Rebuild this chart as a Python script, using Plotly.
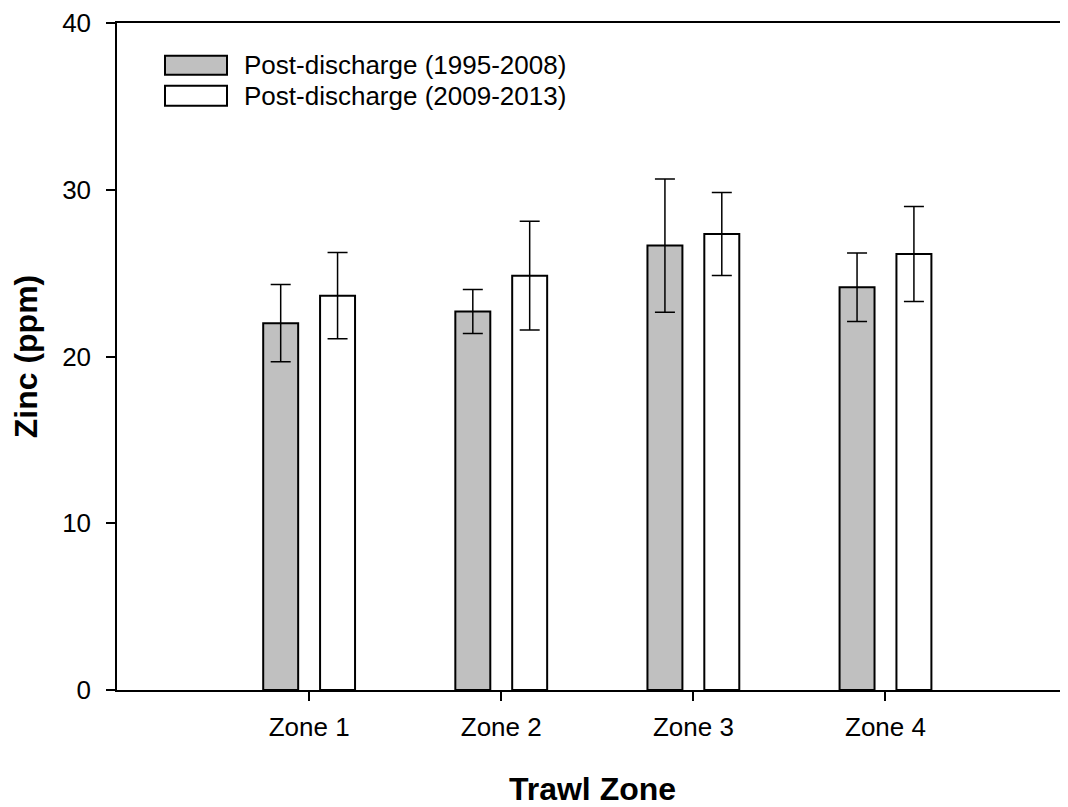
import plotly.graph_objects as go

zones = ["Zone 1", "Zone 2", "Zone 3", "Zone 4"]
zinc_early = [22.0, 22.7, 26.65, 24.15]
sd_early = [2.32, 1.32, 4.0, 2.05]
zinc_late = [23.65, 24.85, 27.35, 26.15]
sd_late = [2.59, 3.26, 2.49, 2.85]
legend_names = ["Post-discharge (1995-2008)", "Post-discharge (2009-2013)"]

fig = go.Figure()

fig.add_trace(go.Bar(
    x=zones, y=zinc_early, name=legend_names[0],
    width=0.182, offset=-0.239,
    marker=dict(color="#C0C0C0", line=dict(color="black", width=2)),
    error_y=dict(type="data", array=sd_early, color="black", thickness=1.5, width=10),
    showlegend=False,
))
fig.add_trace(go.Bar(
    x=zones, y=zinc_late, name=legend_names[1],
    width=0.182, offset=0.057,
    marker=dict(color="white", line=dict(color="black", width=2)),
    error_y=dict(type="data", array=sd_late, color="black", thickness=1.5, width=10),
    showlegend=False,
))

# plot area in screen pixels: x 117..1068, y 20..690
PW, PH = 951, 670


def px(x):
    return (x - 117) / PW


def py(y):
    return 1 - (y - 20) / PH


# legend drawn by hand to get the wide swatches
fills = ["#C0C0C0", "white"]
boxes = [(53, 72), (83, 103)]
for name, fill, (top, bot) in zip(legend_names, fills, boxes):
    fig.add_shape(type="rect", xref="paper", yref="paper",
                  x0=px(165), x1=px(227), y0=py(bot), y1=py(top),
                  fillcolor=fill, line=dict(color="black", width=2))
    fig.add_annotation(xref="paper", yref="paper",
                       x=px(242), y=py((top + bot) / 2),
                       text=name, showarrow=False, xanchor="left", yanchor="middle",
                       font=dict(size=26, color="black", family="Liberation Sans, Arial"))

fig.update_layout(
    width=1060, height=799,
    margin=dict(l=109, r=0, t=12, b=117),
    plot_bgcolor="white", paper_bgcolor="white",
    font=dict(family="Liberation Sans, Arial", color="black", size=26),
    xaxis=dict(
        range=[-1, 3.95], showline=True, linecolor="black", linewidth=1.5,
        mirror=True, ticks="outside", ticklen=9, tickwidth=1.5, tickcolor="black",
        ticklabelstandoff=4,
        title=dict(text="<b>Trawl Zone</b>", font=dict(size=32), standoff=38),
        showgrid=False, zeroline=False,
    ),
    yaxis=dict(
        range=[0, 40], tickvals=[0, 10, 20, 30, 40], showline=True,
        linecolor="black", linewidth=1.5, ticks="outside", ticklen=9,
        tickwidth=1.5, tickcolor="black", ticklabelstandoff=10,
        ticklabeloverflow="allow",
        title=dict(text="<b>Zinc (ppm)</b>", font=dict(size=32), standoff=15),
        showgrid=False, zeroline=False,
    ),
)

fig.write_html("out.html")
